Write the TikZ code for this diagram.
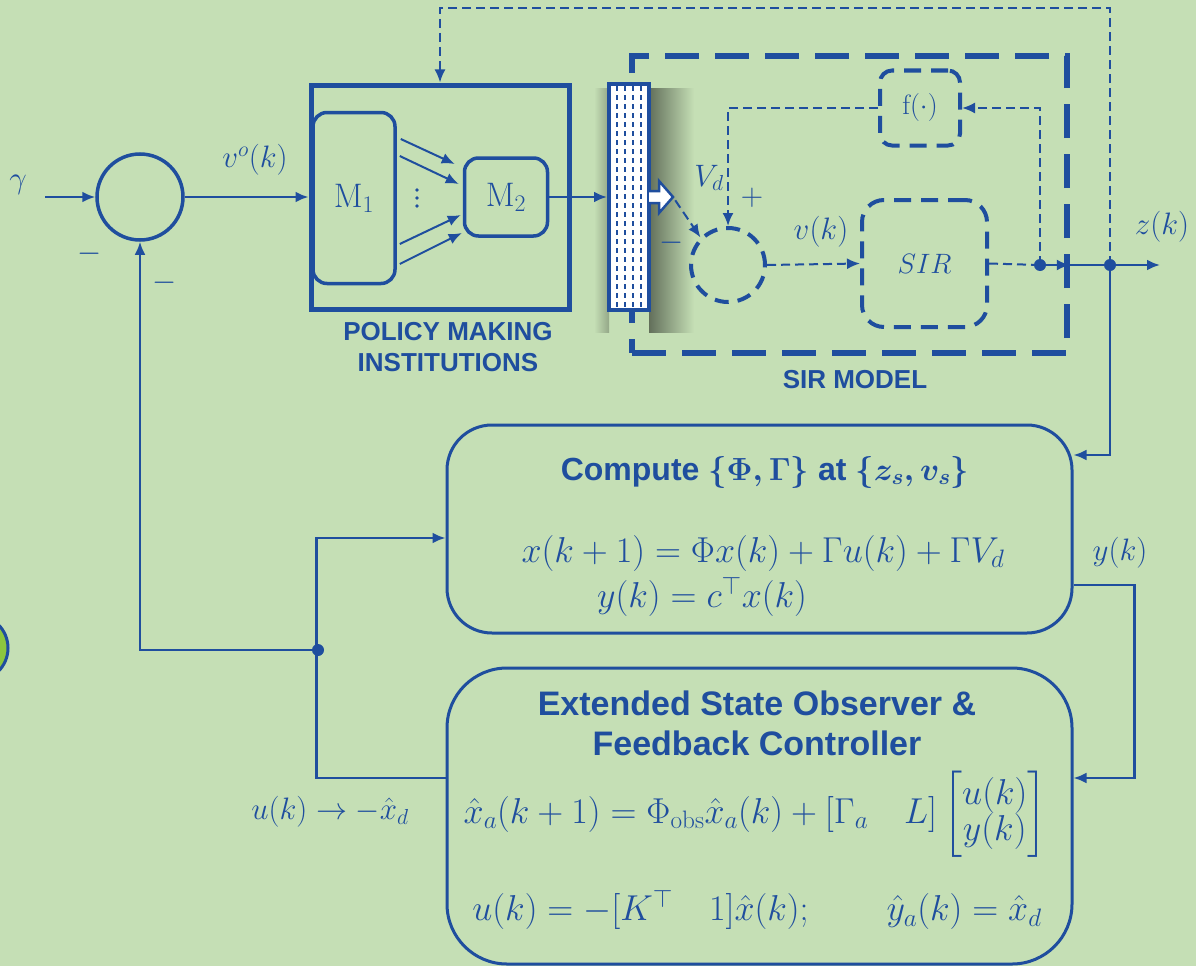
\RequirePackage{fix-cm}
\documentclass[tikz,border=0pt]{standalone}
\usepackage{amsmath,amssymb}
\usepackage{fontspec}
\setsansfont{Liberation Sans}
\usetikzlibrary{arrows.meta,calc}
\definecolor{ink}{HTML}{1F4E9E}
\definecolor{paper}{HTML}{C5DFB5}
\definecolor{leaf}{HTML}{8CC63F}

\begin{document}
\begin{tikzpicture}[x=1pt,y=-1pt,text=ink,
 font=\fontsize{31}{36}\selectfont,
 head/.style={font=\sffamily\bfseries\fontsize{32}{40}\selectfont,align=center},
 tag/.style={font=\sffamily\bfseries\fontsize{26}{31}\selectfont,align=center},
 eqn/.style={font=\fontsize{36}{40}\selectfont},
 inner/.style={font=\fontsize{28}{32}\selectfont},
 flow/.style={-{Latex[length=13pt,width=11pt]},draw=ink,line width=2.5pt},
 dflow/.style={flow,line width=2pt,dash pattern=on 9pt off 5pt},
 dline/.style={draw=ink,line width=2pt,dash pattern=on 9pt off 5pt},
 blockbox/.style={draw=ink,line width=3.5pt,inner sep=0pt},
 dbox/.style={draw=ink,line width=4pt,dash pattern=on 17pt off 10pt,inner sep=0pt},
 mbox/.style={draw=ink,line width=3pt,inner sep=0pt}]
\fill[paper] (0,0) rectangle (1196,966);
\useasboundingbox (0,0) rectangle (1196,966);
% fragment at the left edge
\draw[ink,fill=leaf,line width=3pt] (-25,648) circle (33);
% summing junction
\node[blockbox,circle,minimum size=86pt] (sum) at (140,197) {};
\coordinate (gin) at (45,197);
\node at (18,185) {$\gamma$};
\node at (90,254) {$-$};
\node at (165,283) {$-$};
\draw[flow] (gin) -- (sum);
% policy making institutions
\node[blockbox,line width=5pt,minimum width=258pt,minimum height=224pt] (pol) at (440,197) {};
\node[blockbox,font=\fontsize{34}{38}\selectfont,rounded corners=14pt,minimum width=82pt,minimum height=171pt] (m1) at (354,198) {$\mathrm{M}_1$};
\node[blockbox,font=\fontsize{34}{38}\selectfont,rounded corners=14pt,minimum width=83pt,minimum height=78pt] (m2) at (506,197) {$\mathrm{M}_2$};
\coordinate (dots) at (417,198);
\foreach \d in {-8,0,8}{\fill[ink] ($(dots)+(0,\d)$) circle (1.8);}
\draw[flow,line width=2pt] ([xshift=4pt,yshift=59pt]m1.east) -- ([xshift=-8pt,yshift=33pt]m2.west);
\draw[flow,line width=2pt] ([xshift=3pt,yshift=42pt]m1.east) -- ([xshift=-4pt,yshift=13pt]m2.west);
\draw[flow,line width=2pt] ([xshift=3pt,yshift=-46pt]m1.east) -- ([xshift=-2pt,yshift=-18pt]m2.west);
\draw[flow,line width=2pt] ([xshift=3pt,yshift=-66pt]m1.east) -- ([xshift=-1pt,yshift=-36pt]m2.west);
\draw[flow] (sum) -- (pol.west);
\node at (255,160) {$v^{o}(k)$};
\node[tag] at (448,347) {POLICY MAKING\\INSTITUTIONS};
% SIR model
\shade[left color=paper!50!black,right color=paper] (649,88) rectangle (694,332);
\shade[right color=paper!75!black,left color=paper] (594,88) rectangle (609,332);
\node[dbox,line width=5.5pt,dash pattern=on 34pt off 16pt,minimum width=435pt,minimum height=297pt] (sirbox) at (849.5,204.5) {};
\node[tag] at (855,380) {SIR MODEL};
\node[blockbox,line width=4pt,fill=white,minimum width=40pt,minimum height=226pt] (bar) at (629,197) {};
\foreach \xx in {-12,-4,4,12}{
 \draw[ink,line width=1.3pt,dash pattern=on 5pt off 4pt] ([xshift=\xx pt,yshift=-4pt]bar.north) -- ([xshift=\xx pt,yshift=4pt]bar.south);
}
\draw[flow] (m2) -- (bar);
\begin{scope}[shift={(bar.east)}]
 \draw[ink,line width=2.5pt,fill=white,line join=miter] (-2,-6) -- (8,-6) -- (8,-16) -- (22,0) -- (8,16) -- (8,6) -- (-2,6);
 \coordinate (blk) at (22,0);
\end{scope}
\node[dbox,circle,minimum size=74pt,dash pattern=on 14pt off 9pt] (vsum) at (728,265) {};
\node[dbox,inner,rounded corners=12pt,minimum width=80pt,minimum height=75pt] (fbox) at (920,108) {$\mathrm{f}(\cdot)$};
\node[dbox,inner,rounded corners=22pt,minimum width=125pt,minimum height=127pt] (sir) at (924.5,263.5) {$SIR$};
\draw[dflow,shorten <=4pt] (blk) -- (vsum.135);
\node at (709,178) {$V_d$};
\node at (752,198) {$+$};
\node at (672,243) {$-$};
\node at (821,232) {$v(k)$};
\draw[dflow] (fbox.west) -| (vsum.north);
\coordinate (tap) at (1040,265);
\coordinate (zdot) at (1110,265);
\coordinate (zout) at (1160,265);
\coordinate (topr) at (1110,8);
\draw[dflow] (tap) |- (fbox.east);
\draw[dflow] (vsum.east) -- (sir.west);
\draw[dline] (sir.east) -- (tap);
\draw[flow,line width=2pt] (tap) -- (tap -| sirbox.east);
\draw[flow] (tap -| sirbox.east) -- (zout);
\node at (1162,227) {$z(k)$};
\draw[dflow] (zdot) -- (topr) -| (pol.north);
\fill[ink] (tap) circle (6);
\fill[ink] (zdot) circle (6);
% linearised model
\node[mbox,rounded corners=45pt,minimum width=625pt,minimum height=208pt] (cmp) at (759.5,529) {};
\node[head] at (765,472) {Compute $\boldsymbol{\{\Phi,\Gamma\}}$ at $\boldsymbol{\{z_s,v_s\}}$};
\node[eqn] at (763,553) {$x(k+1)=\Phi x(k)+\Gamma u(k)+\Gamma V_d$};
\node[eqn] at (702,597) {$y(k)=c^{\top}x(k)$};
% observer and controller
\node[mbox,rounded corners=60pt,minimum width=625pt,minimum height=296pt] (eso) at (759.5,816) {};
\node[head,font=\sffamily\bfseries\fontsize{34}{40}\selectfont] at (757,723) {Extended State Observer \&\\Feedback Controller};
\node[eqn] at (755,814) {\renewcommand{\arraystretch}{0.8}$\hat{x}_a(k+1)=\Phi_{\mathrm{obs}}\hat{x}_a(k)+[\Gamma_a\quad L]\begin{bmatrix}u(k)\\y(k)\end{bmatrix}$};
\node[eqn] at (757,910) {$u(k)=-[K^{\top}\quad 1]\hat{x}(k);\qquad \hat{y}_a(k)=\hat{x}_d$};
\draw[flow] (zdot) |- ([yshift=74pt]cmp.east);
\draw[flow] ([yshift=-56pt]cmp.east) -- ++(61,0) |- ([yshift=38pt]eso.east);
\node at (1120,553) {$y(k)$};
\draw[flow] ([yshift=38pt]eso.west) -- ++(-129,0) |- ([yshift=-9pt]cmp.west);
\coordinate (udot) at (318,650);
\draw[flow] (udot) -| (sum.south);
\fill[ink] (udot) circle (6);
\node at (330,812) {$u(k)\rightarrow-\hat{x}_d$};
\end{tikzpicture}
\end{document}
